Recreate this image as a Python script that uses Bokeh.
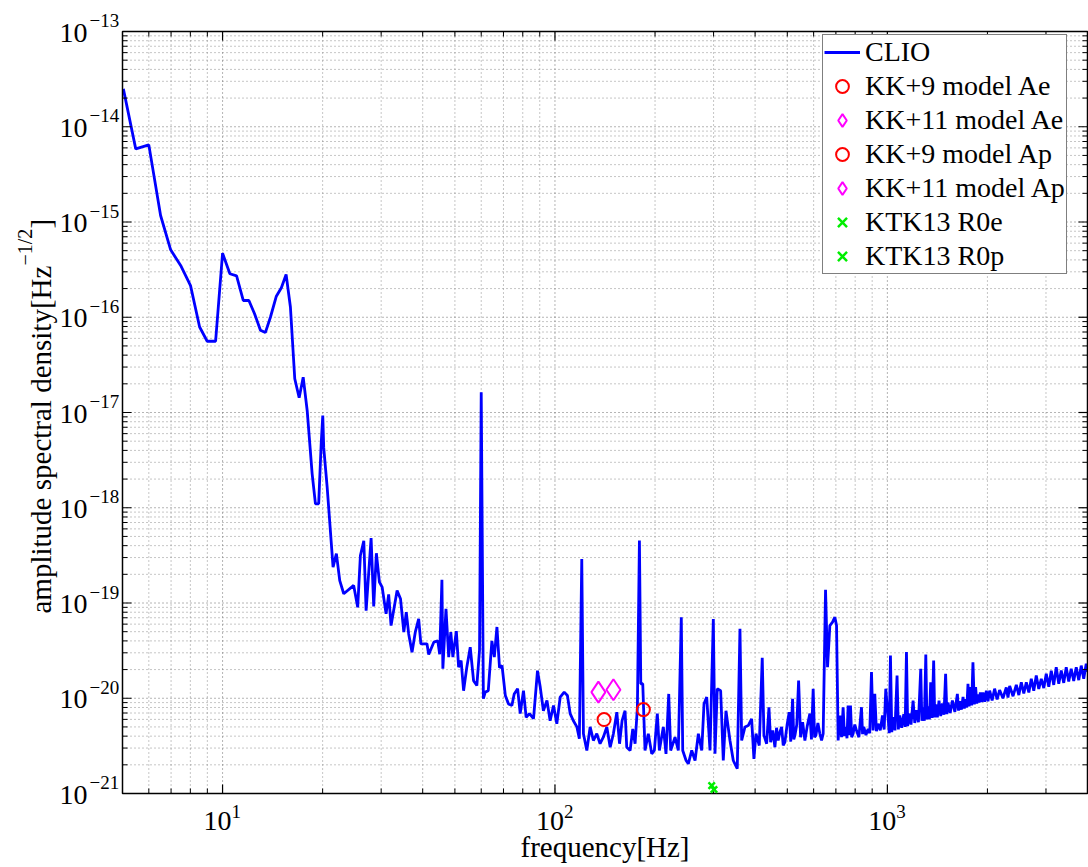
from bokeh.plotting import figure
from bokeh.models import Legend, LegendItem, Range1d
from bokeh.core.properties import value
from bokeh.embed import file_html
from bokeh.resources import INLINE
import math

# ---------------- data ----------------
clio_freq = [
    5.03, 5.48, 6.0, 6.51, 6.98, 7.48, 8.01, 8.53, 8.99, 9.53,
    10.0, 10.52, 11.02, 11.54, 12.0, 12.48, 13.0, 13.45, 13.93, 14.5,
    15.03, 15.53, 16.0, 16.49, 17.0, 17.48, 17.97, 18.6, 19.03, 19.46,
    19.8, 20.02, 20.15, 20.64, 21.5, 22.0, 22.52, 23.15, 24.8, 25.5,
    25.98, 26.6, 27.03, 27.98, 28.49, 29.02, 29.64, 30.2, 31.04, 31.6,
    32.13, 33.5, 34.3, 35.1, 35.7, 36.3, 37.15, 38.0, 38.9, 39.5,
    41.2, 41.7, 43.2, 44.4, 45.0, 45.7, 46.0, 47.0, 47.9, 48.6,
    49.3, 50.5, 51.3, 52.2, 53.1, 54.3, 55.6, 56.9, 58.2, 59.3,
    60.0, 60.9, 61.7, 63.0, 64.6, 65.7, 66.9, 68.1, 69.3, 70.9,
    72.5, 74.2, 75.4, 77.2, 78.6, 80.4, 81.9, 83.8, 86.2, 88.6,
    90.3, 92.3, 94.6, 96.7, 99.0, 101.3, 103.7, 106.6, 109.0, 111.1,
    113.6, 116.4, 118.4, 120.4, 121.8, 124.7, 127.6, 130.5, 133.6, 136.7,
    139.8, 143.2, 146.6, 149.9, 153.5, 156.4, 159.2, 162.5, 164.4, 168.3,
    171.4, 174.2, 177.0, 179.5, 181.2, 183.7, 186.6, 190.9, 195.5, 199.1,
    203.2, 206.1, 211.8, 215.8, 219.9, 222.9, 229.7, 235.0, 239.9, 242.3,
    248.0, 251.9, 257.9, 263.9, 270.0, 276.4, 280.8, 286.1, 292.7, 299.5,
    303.0, 307.8, 315.1, 320.9, 326.9, 336.1, 343.9, 353.5, 360.2, 364.5,
    372.9, 381.5, 390.5, 396.8, 402.4, 411.7, 420.3, 425.3, 433.3, 440.3,
    445.5, 452.0, 458.9, 464.0, 469.5, 475.0, 480.7, 486.0, 491.8, 499.0,
    506.6, 512.0, 518.6, 523.0, 527.0, 534.0, 540.7, 548.2, 556.0,
    564.8, 574.0, 584.6, 591.0, 598.1, 604.0, 609.4, 618.0, 626.5, 634.0,
    641.0, 651.6, 660.7, 671.4, 683.9,
    695.1, 703.2, 711.1, 719.4, 728.0, 736.0, 743.0, 749.9, 756.0, 761.9,
    768.0, 774.6, 781.0, 788.7, 798.0, 807.4, 821.0,
    835.8, 842.0, 849.3, 862.0, 875.0, 885.0, 895.8, 906.0, 916.5, 927.0,
    937.7, 952.0, 966.6, 978.0, 989.0,
    1004.8, 1013, 1021.6, 1031, 1040.1, 1054, 1069.4, 1079, 1089.7, 1104,
    1120.2, 1131, 1141.4, 1151, 1162.1, 1178, 1195, 1209, 1223, 1240,
    1260, 1270, 1281, 1292, 1305, 1315, 1326, 1338, 1350, 1363,
    1378, 1388, 1398, 1414, 1430, 1447, 1464, 1480, 1497, 1510,
    1522, 1545, 1569, 1596, 1624, 1637, 1650, 1670, 1689, 1704,
    1720, 1734, 1748, 1762, 1777, 1793, 1809, 1826, 1843, 1858,
    1873, 1888, 1904, 1921, 1939, 1962, 1985, 2008, 2031, 2066,
    2102, 2139, 2176, 2227, 2279, 2306, 2333, 2388, 2443, 2486,
    2529, 2573, 2618, 2664, 2710, 2757, 2805, 2854, 2904, 2955,
    3006, 3059, 3112, 3166, 3221, 3278, 3335, 3393, 3452, 3512,
    3573, 3636, 3700, 3765, 3830, 3897, 3965, 4000,
]
clio_asd = [
    2.5e-14, 5.86e-15, 6.45e-15, 1.17e-15, 5.1e-16, 3.5e-16, 2.15e-16, 7.9e-17, 5.6e-17, 5.6e-17,
    4.7e-16, 2.86e-16, 2.72e-16, 1.5e-16, 1.5e-16, 1.09e-16, 7.3e-17, 6.9e-17, 1.0e-16, 1.65e-16,
    2.04e-16, 2.81e-16, 1.28e-16, 2.26e-17, 1.43e-17, 2.35e-17, 1.05e-17, 2.27e-18, 1.1e-18, 1.1e-18,
    4.7e-18, 9.3e-18, 4.3e-18, 1.64e-18, 2.38e-19, 3.3e-19, 1.72e-19, 1.25e-19, 1.53e-19, 9.0e-20,
    3.15e-19, 4.5e-19, 8.3e-20, 4.8e-19, 9.2e-20, 3.33e-19, 1.66e-19, 1.47e-19, 7.7e-20, 1.23e-19,
    5.8e-20, 1.35e-19, 1.11e-19, 4.94e-20, 8.0e-20, 4.74e-20, 3.04e-20, 4.94e-20, 6.8e-20, 3.73e-20,
    3.73e-20, 2.88e-20, 3.88e-20, 4.0e-20, 2.9e-20, 1.75e-19, 2.04e-20, 8.7e-20, 2.7e-20, 4.94e-20,
    2.7e-20, 5.06e-20, 2.12e-20, 2.49e-20, 1.2e-20, 2.12e-20, 3.43e-20, 1.53e-20, 1.36e-20, 3.2e-20,
    1.63e-17, 9.9e-21, 1.16e-20, 1.2e-20, 4.0e-20, 2.7e-20, 5.6e-20, 2.1e-20, 2.2e-20, 1.07e-20,
    8.7e-21, 8.4e-21, 1.11e-20, 1.26e-20, 6.9e-21, 1.2e-20, 6.3e-21, 6.9e-21, 6.1e-21, 1.95e-20,
    1.31e-20, 7.4e-21, 9.5e-21, 5.8e-21, 8.4e-21, 5.4e-21, 1.03e-20, 1.16e-20, 1.07e-20, 6.9e-21,
    5.8e-21, 5.0e-21, 3.75e-21, 2.9e-19, 4.24e-21, 2.83e-21, 5.0e-21, 3.6e-21, 4.24e-21, 3.33e-21,
    3.9e-21, 5.0e-21, 3.06e-21, 4.24e-21, 7.15e-21, 3.33e-21, 5.83e-21, 7.4e-21, 3.06e-21, 2.83e-21,
    4.77e-21, 3.33e-21, 8.05e-21, 4.53e-19, 1.42e-20, 1.42e-20, 2.83e-21, 4.24e-21, 2.61e-21, 2.83e-21,
    6.9e-21, 2.83e-21, 5.0e-21, 2.61e-21, 1.11e-20, 2.83e-21, 3.9e-21, 2.83e-21, 7.1e-20, 2.83e-21,
    2.22e-21, 2.05e-21, 2.83e-21, 2.22e-21, 4.24e-21, 2.83e-21, 8.75e-21, 1.03e-20, 2.83e-21, 6.8e-20,
    2.61e-21, 1.26e-20, 1.2e-20, 2.22e-21, 7.4e-21, 3.6e-21, 2.22e-21, 1.82e-21, 5.36e-20, 3.6e-21,
    5.0e-21, 5.17e-21, 6.08e-21, 2.31e-21, 4.24e-21, 3.19e-21, 2.66e-20, 4.07e-21, 3.33e-21, 8.05e-21,
    3.46e-21, 4.6e-21, 3.06e-21, 4.9e-21, 3.6e-21, 4.4e-21, 5.0e-21, 3.2e-21, 3.46e-21, 5.2e-21,
    7.15e-21, 3.5e-21, 9.86e-21, 3.7e-21, 4.07e-21, 5.3e-21, 1.53e-20, 3.9e-21, 5.6e-21,
    3.6e-21, 5.1e-21, 6.9e-21, 3.7e-21, 1.26e-20, 3.9e-21, 4.07e-21, 5.5e-21, 4.24e-21, 3.6e-21,
    4.24e-21, 1.38e-19, 2.12e-20, 5.8e-20, 6.3e-20,
    7.1e-20, 5.8e-20, 3.6e-21, 6.59e-21, 3.9e-21, 8.05e-21, 4.0e-21, 5.0e-21, 3.8e-21, 8.4e-21,
    4.1e-21, 8.4e-21, 3.9e-21, 4.24e-21, 5.3e-21, 4.58e-21, 3.9e-21,
    8.05e-21, 4.2e-21, 5.0e-21, 4.1e-21, 4.77e-21, 4.3e-21, 1.88e-20, 4.6e-21, 1.11e-20, 4.5e-21,
    5.4e-21, 4.6e-21, 6.59e-21, 4.7e-21, 1.26e-20,
    6.32e-21, 4.3e-21, 2.81e-20, 4.4e-21, 6.32e-21, 4.6e-21, 1.73e-20, 4.7e-21, 6.59e-21, 4.9e-21,
    6.8e-21, 5.0e-21, 3.05e-20, 5.1e-21, 6.9e-21, 5.3e-21, 9.46e-21, 5.5e-21, 7.5e-21, 5.6e-21,
    2.04e-20, 5.8e-21, 8.0e-21, 5.8e-21, 2.88e-20, 6.0e-21, 8.2e-21, 6.0e-21, 1.47e-20, 6.2e-21,
    2.49e-20, 6.3e-21, 8.6e-21, 6.3e-21, 9.46e-21, 6.5e-21, 8.8e-21, 6.7e-21, 1.81e-20, 6.8e-21,
    9.0e-21, 7.0e-21, 9.46e-21, 7.2e-21, 1.11e-20, 7.4e-21, 9.3e-21, 7.6e-21, 1.03e-20, 7.8e-21,
    9.8e-21, 8.0e-21, 1.42e-20, 8.2e-21, 1.31e-20, 8.4e-21, 2.39e-20, 8.6e-21, 1.31e-20, 8.8e-21,
    1.1e-20, 9.0e-21, 1.15e-20, 9.1e-21, 1.15e-20, 9.2e-21, 1.2e-20, 9.3e-21, 1.2e-20, 9.5e-21,
    1.26e-20, 9.7e-21, 1.22e-20, 1.0e-20, 1.3e-20, 1.02e-20, 1.35e-20, 1.05e-20, 1.38e-20, 1.08e-20,
    1.47e-20, 1.12e-20, 1.47e-20, 1.15e-20, 1.6e-20, 1.2e-20, 1.73e-20, 1.25e-20, 1.6e-20, 1.28e-20,
    1.81e-20, 1.32e-20, 1.95e-20, 1.38e-20, 2.12e-20, 1.42e-20, 1.95e-20, 1.45e-20, 2.12e-20, 1.5e-20,
    2.04e-20, 1.52e-20, 2.12e-20, 1.55e-20, 2.2e-20, 1.6e-20, 2.3e-20, 1.9e-20,
]

kk9_ae_freq = [140.5]
kk9_ae_asd = [5.98e-21]
kk11_ae_freq = [135.1]
kk11_ae_asd = [1.16e-20]
kk9_ap_freq = [184.5]
kk9_ap_asd = [7.6e-21]
kk11_ap_freq = [149.9]
kk11_ap_asd = [1.23e-20]
ktk_r0e_freq = [296.1]
ktk_r0e_asd = [1.21e-21]
ktk_r0p_freq = [300.9]
ktk_r0p_asd = [1.10e-21]

x_major_exponents = [1, 2, 3]
y_major_exponents = [-21, -20, -19, -18, -17, -16, -15, -14, -13]
x_limits = (5.0, 4000.0)
y_limits = (1e-21, 1e-13)

x_label = "frequency[Hz]"
y_label_main = "amplitude spectral density[Hz"
y_label_sup = "\u22121/2"
y_label_end = "]"

# ---------------- layout (pixels) ----------------
W, H = 1088, 867
BOX_L, BOX_R, BOX_T, BOX_B = 122, 1087, 31, 793
MAJ_TICK, MIN_TICK = 9, 5
FONT = "Liberation Serif"

lx0, lx1 = math.log10(x_limits[0]), math.log10(x_limits[1])
ly0, ly1 = math.log10(y_limits[0]), math.log10(y_limits[1])
ppd_x = (BOX_R - BOX_L) / (lx1 - lx0)
ppd_y = (BOX_B - BOX_T) / (ly1 - ly0)
x_start = 10 ** (lx0 - BOX_L / ppd_x)
x_end = 10 ** (lx1 + (W - BOX_R) / ppd_x)
y_start = 10 ** (ly0 - (H - BOX_B) / ppd_y)
y_end = 10 ** (ly1 + BOX_T / ppd_y)


def fx(px):  # multiplicative factor for a pixel length along x
    return 10 ** (px / ppd_x)


def fy(px):
    return 10 ** (px / ppd_y)


x_major = [10.0 ** e for e in x_major_exponents]
x_minor = [m * 10.0 ** d for d in range(0, 4) for m in range(2, 10)
           if x_limits[0] < m * 10.0 ** d < x_limits[1]]
y_major = [10.0 ** e for e in y_major_exponents]
y_minor = [m * 10.0 ** d for d in range(-22, -13) for m in range(2, 10)
           if y_limits[0] < m * 10.0 ** d < y_limits[1]]
x_major_in = [v for v in x_major if x_limits[0] < v < x_limits[1]]
y_major_in = [v for v in y_major if y_limits[0] < v < y_limits[1]]


def exp_text(e):
    return str(e).replace("-", "\u2212")


p = figure(width=W, height=H, x_axis_type="log", y_axis_type="log",
           x_range=Range1d(x_start, x_end), y_range=Range1d(y_start, y_end),
           x_axis_location=None, y_axis_location=None,
           output_backend="svg", toolbar_location=None,
           min_border_left=0, min_border_right=0, min_border_top=0, min_border_bottom=0,
           background_fill_color="white", border_fill_color="white")
p.outline_line_color = None
p.xgrid.visible = False
p.ygrid.visible = False

xa, xb = x_limits
ya, yb = y_limits

# grid (dotted, major and minor)
p.segment(x0=x_minor, x1=x_minor, y0=[ya] * len(x_minor), y1=[yb] * len(x_minor),
          line_color="#8c8c8c", line_dash="1 3", line_width=1)
p.segment(x0=[xa] * len(y_minor), x1=[xb] * len(y_minor), y0=y_minor, y1=y_minor,
          line_color="#8c8c8c", line_dash="1 3", line_width=1)
p.segment(x0=x_major_in, x1=x_major_in, y0=[ya] * len(x_major_in), y1=[yb] * len(x_major_in),
          line_color="#6a6a6a", line_dash="1 3", line_width=1)
p.segment(x0=[xa] * len(y_major_in), x1=[xb] * len(y_major_in), y0=y_major_in, y1=y_major_in,
          line_color="#6a6a6a", line_dash="1 3", line_width=1)

# data
r_clio = p.line(clio_freq, clio_asd, line_color="#0000ff", line_width=2.8)

# box
p.quad(left=[xa], right=[xb], bottom=[ya], top=[yb], fill_color=None,
       line_color="black", line_width=1.5)

# inward ticks on all four sides
for ticks, ln, w in ((x_major_in, MAJ_TICK, 1.2), (x_minor, MIN_TICK, 1.0)):
    n = len(ticks)
    p.segment(x0=ticks, x1=ticks, y0=[ya] * n, y1=[ya * fy(ln)] * n, line_color="black", line_width=w)
    p.segment(x0=ticks, x1=ticks, y0=[yb] * n, y1=[yb / fy(ln)] * n, line_color="black", line_width=w)
for ticks, ln, w in ((y_major_in, MAJ_TICK, 1.2), (y_minor, MIN_TICK, 1.0)):
    n = len(ticks)
    p.segment(x0=[xa] * n, x1=[xa * fx(ln)] * n, y0=ticks, y1=ticks, line_color="black", line_width=w)
    p.segment(x0=[xb] * n, x1=[xb / fx(ln)] * n, y0=ticks, y1=ticks, line_color="black", line_width=w)

# markers
r_kk9ae = p.scatter(kk9_ae_freq, kk9_ae_asd, marker="circle", size=13, fill_color=None,
                    line_color="#ff0000", line_width=2)
r_kk11ae = p.scatter(kk11_ae_freq, kk11_ae_asd, marker="diamond", size=21, fill_color=None,
                     line_color="#ff00ff", line_width=2)
r_kk9ap = p.scatter(kk9_ap_freq, kk9_ap_asd, marker="circle", size=13, fill_color=None,
                    line_color="#ff0000", line_width=2)
r_kk11ap = p.scatter(kk11_ap_freq, kk11_ap_asd, marker="diamond", size=21, fill_color=None,
                     line_color="#ff00ff", line_width=2)
r_r0e = p.scatter(ktk_r0e_freq, ktk_r0e_asd, marker="x", size=9, line_color="#00ee00", line_width=2.5)
r_r0p = p.scatter(ktk_r0p_freq, ktk_r0p_asd, marker="x", size=9, line_color="#00ee00", line_width=2.5)

# tick labels: "10" with a raised exponent
ny, nx = len(y_major), len(x_major)
p.text(x=[xa] * ny, y=y_major, text=["10"] * ny, x_offset=-35, y_offset=1,
       text_align="right", text_baseline="alphabetic",
       text_font=value(FONT), text_font_size=value("28px"), text_color="black")
p.text(x=[xa] * ny, y=y_major, text=[exp_text(e) for e in y_major_exponents],
       x_offset=-33, y_offset=-11, text_align="left", text_baseline="alphabetic",
       text_font=value(FONT), text_font_size=value("19px"), text_color="black")
p.text(x=x_major, y=[ya] * nx, text=["10"] * nx, x_offset=-5, y_offset=27,
       text_align="center", text_baseline="alphabetic",
       text_font=value(FONT), text_font_size=value("28px"), text_color="black")
p.text(x=x_major, y=[ya] * nx, text=[exp_text(e) for e in x_major_exponents],
       x_offset=9, y_offset=18, text_align="left", text_baseline="alphabetic",
       text_font=value(FONT), text_font_size=value("19px"), text_color="black")

# axis titles
x_mid = math.sqrt(xa * xb)
p.text(x=[x_mid], y=[ya], text=[x_label], x_offset=0, y_offset=53,
       text_align="center", text_baseline="alphabetic",
       text_font=value(FONT), text_font_size=value("29px"), text_color="black")
ang = math.pi / 2
p.text(x=[xa], y=[ya], text=[y_label_main], x_offset=-82, y_offset=-180, angle=ang,
       text_align="left", text_baseline="alphabetic",
       text_font=value(FONT), text_font_size=value("29px"), text_color="black")
p.text(x=[xa], y=[ya], text=[y_label_sup], x_offset=-98, y_offset=-528, angle=ang,
       text_align="left", text_baseline="alphabetic",
       text_font=value(FONT), text_font_size=value("20px"), text_color="black")
p.text(x=[xa], y=[ya], text=[y_label_end], x_offset=-82, y_offset=-565, angle=ang,
       text_align="left", text_baseline="alphabetic",
       text_font=value(FONT), text_font_size=value("29px"), text_color="black")

legend = Legend(items=[
    LegendItem(label="CLIO", renderers=[r_clio]),
    LegendItem(label="KK+9 model Ae", renderers=[r_kk9ae]),
    LegendItem(label="KK+11 model Ae", renderers=[r_kk11ae]),
    LegendItem(label="KK+9 model Ap", renderers=[r_kk9ap]),
    LegendItem(label="KK+11 model Ap", renderers=[r_kk11ap]),
    LegendItem(label="KTK13 R0e", renderers=[r_r0e]),
    LegendItem(label="KTK13 R0p", renderers=[r_r0p]),
], location=(822, H - 274))
legend.margin = 0
legend.padding = 1
legend.spacing = 2
legend.label_height = 32
legend.glyph_height = 32
legend.glyph_width = 36
legend.label_standoff = 5
legend.label_text_font = FONT
legend.label_text_font_size = "28px"
legend.label_text_color = "black"
legend.border_line_color = "black"
legend.border_line_width = 1.5
legend.background_fill_color = "white"
legend.background_fill_alpha = 1
p.add_layout(legend)

open("out.html", "w").write(file_html(p, INLINE))
